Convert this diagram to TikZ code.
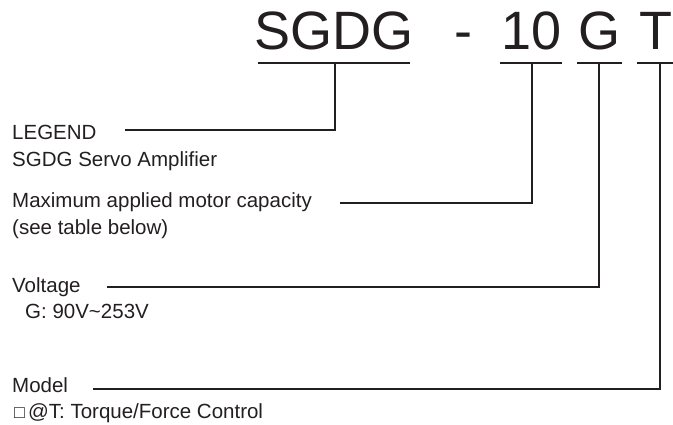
\documentclass[tikz,border=0pt]{standalone}
\usepackage{fontspec}
\setmainfont{Liberation Sans}
\definecolor{ink}{RGB}{35,31,32}
\begin{document}
\begin{tikzpicture}[x=1pt,y=-1pt,
  big/.style={inner sep=0pt,anchor=base,text=ink,font=\fontsize{54}{60}\selectfont},
  lbl/.style={inner sep=0pt,anchor=base west,text=ink,font=\fontsize{20.5}{27}\selectfont},
  wire/.style={draw=ink,line width=1.25pt}]
\useasboundingbox (0,0) rectangle (673,425);
% title parts
\node[big] (t1) at (334,50) {SGDG};
\node[big] (t2) at (463,50) {-};
\node[big] (t3) at (532,50) {10};
\node[big] (t4) at (599,50) {G};
\node[big] (t5) at (656,50) {T};
% underlines
\coordinate (u1a) at (258,63); \coordinate (u1b) at (410,63); \coordinate (k1) at (335,63);
\coordinate (u3a) at (500,63); \coordinate (u3b) at (562,63); \coordinate (k3) at (532,63);
\coordinate (u4a) at (577,63); \coordinate (u4b) at (622,63); \coordinate (k4) at (599,63);
\coordinate (u5a) at (637,63); \coordinate (u5b) at (673,63); \coordinate (k5) at (660,63);
\draw[wire] (u1a) -- (u1b);
\draw[wire] (u3a) -- (u3b);
\draw[wire] (u4a) -- (u4b);
\draw[wire] (u5a) -- (u5b);
% labels
\node[lbl] (l1) at (12,140) {LEGEND};
\node[lbl] (l1b) at (12,167) {SGDG Servo Amplifier};
\node[lbl] (l2) at (12,208) {Maximum applied motor capacity};
\node[lbl] (l2b) at (12,235) {(see table below)};
\node[lbl] (l3) at (12,292) {Voltage};
\node[lbl] (l3b) at (25,318) {G: 90V\textasciitilde 253V};
\node[lbl] (l4) at (12,392) {Model};
\node[lbl] (l4b) at (14,418) {{\fontsize{18}{18}\selectfont □}\hspace{3pt}@T: Torque/Force Control};
% connectors
\coordinate (s1) at (125,130);
\coordinate (s2) at (340,203);
\coordinate (s3) at (107,287);
\coordinate (s4) at (93,389);
\draw[wire] (s1) -| (k1);
\draw[wire] (s2) -| (k3);
\draw[wire] (s3) -| (k4);
\draw[wire] (s4) -| (k5);
\end{tikzpicture}
\end{document}
